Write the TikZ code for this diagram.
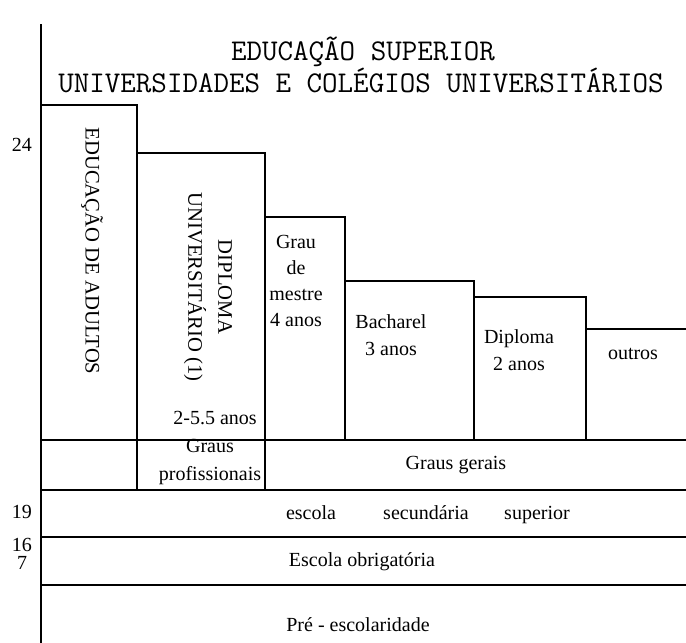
\documentclass[tikz,border=0pt]{standalone}
\usepackage{fontspec}
\setmainfont{Liberation Serif}
\usepackage{tikz}

\begin{document}
\begin{tikzpicture}[x=0.75pt, y=-0.75pt, line width=1.4pt,
        txt/.style={font=\fontsize{15}{20}\selectfont, inner sep=0pt, align=center},
        vtxt/.style={font=\fontsize{15.5}{22.5}\selectfont, inner sep=0pt, align=center, rotate=-90},
        ttl/.style={font=\ttfamily\fontsize{22.6}{24}\selectfont, inner sep=0pt, anchor=base}]
        \useasboundingbox (0,0) rectangle (686,643);

        % axis
        \draw (41,24) -- (41,643);

        % title
        \node[ttl] (tit1) at (363,60) {EDUCAÇÃO SUPERIOR};
        \node[ttl] (tit2) at (361,92) {UNIVERSIDADES E COLÉGIOS UNIVERSITÁRIOS};

        % steps
        \draw (41,105) -- (137,105) -- (137,490);
        \draw (137,153) -- (265,153) -- (265,490);
        \draw (265,217) -- (345,217) -- (345,440);
        \draw (345,281) -- (474,281) -- (474,440);
        \draw (474,297) -- (586,297) -- (586,440);
        \draw (586,329) -- (686,329);

        % rows
        \foreach \y in {440,490,537,585}
            \draw (41,\y) -- (686,\y);

        \node[vtxt] (adultos) at (92,251) {EDUCAÇÃO DE ADULTOS};
        \node[vtxt] (dipuni) at (208,287) {DIPLOMA\\UNIVERSITÁRIO (1)};
        \node[txt] (anos25) at (215,418) {2-5.5 anos};
        \node[txt, font=\fontsize{15}{19.5}\selectfont] (mestre) at (296,281) {Grau\\de\\mestre\\4 anos};
        \node[txt] (bach) at (391,335) {Bacharel\\3 anos};
        \node[txt] (dipl) at (519,350) {Diploma\\2 anos};
        \node[txt] (outros) at (633,354) {outros};

        \node[txt, font=\fontsize{15}{21.5}\selectfont] (gprof) at (210,462) {Graus\\profissionais};
        \node[txt] (gger) at (456,465) {Graus gerais};
        \node[txt] (esc) at (311,513) {escola};
        \node[txt] (sec) at (426,513) {secundária};
        \node[txt] (sup) at (537,515) {superior};
        \node[txt] (obrig) at (362,562) {Escola obrigatória};
        \node[txt] (pre) at (358,625) {Pré - escolaridade};

        % ages
        \node[txt] (a24) at (22,145) {24};
        \node[txt] (a19) at (22,512) {19};
        \node[txt] (a16) at (22,545) {16};
        \node[txt] (a7) at (22,563) {7};
\end{tikzpicture}
\end{document}
